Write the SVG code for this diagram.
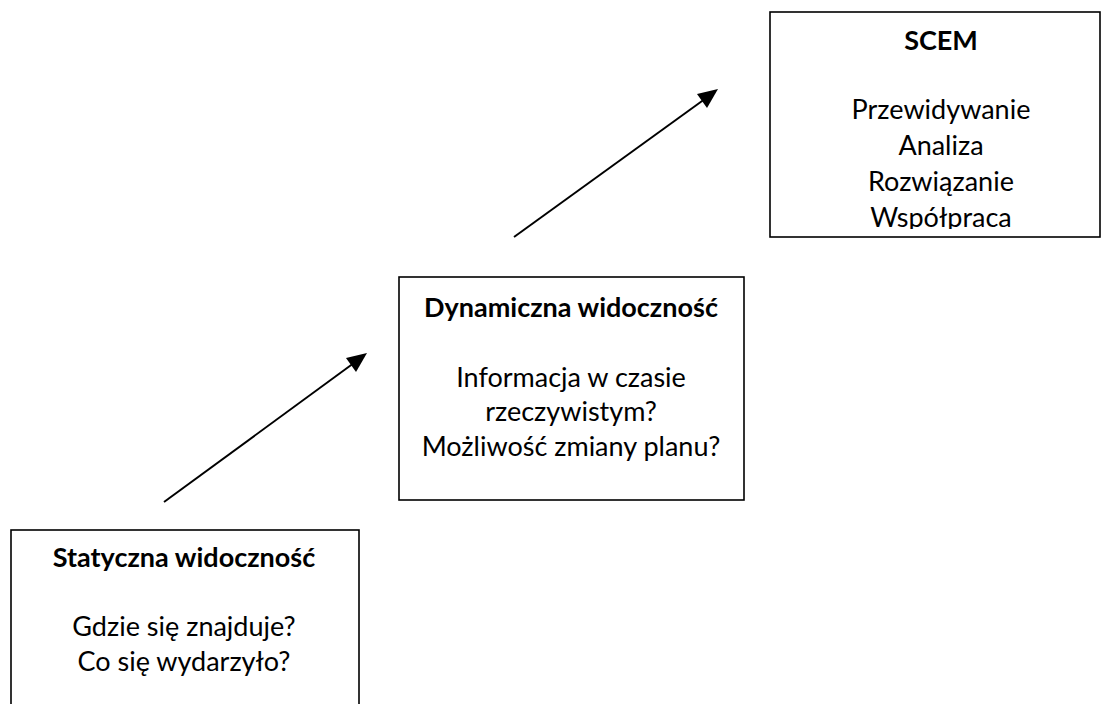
<svg xmlns="http://www.w3.org/2000/svg" width="1104" height="704" viewBox="0 0 1104 704">
<style>
.box{fill:#fff;stroke:#000;stroke-width:1.6}
.t{font-family:Lato,"Open Sans","Liberation Sans",sans-serif;font-size:27px;fill:#000;text-anchor:middle}
.b{font-weight:bold}
.conn{stroke:#000;stroke-width:2;fill:none}
.head{fill:#000}
</style>
<defs>
<clipPath id="clipScem"><rect x="770" y="12" width="330" height="217"/></clipPath>
</defs>
<rect width="1104" height="704" fill="#fff"/>
<g id="connectors">
<line class="conn" x1="164" y1="502" x2="358" y2="360"/>
<path class="head" d="M367,353 L346,358 L356,372 z"/>
<line class="conn" x1="514" y1="237" x2="709" y2="96"/>
<path class="head" d="M718,89 L697,94 L707,108 z"/>
</g>
<g id="scem">
<rect class="box" x="770" y="12" width="330" height="225"/>
<text class="t b" x="941" y="50">SCEM</text>
<g clip-path="url(#clipScem)">
<text class="t" x="941" y="119">Przewidywanie</text>
<text class="t" x="941" y="155">Analiza</text>
<text class="t" x="941" y="191">Rozwiązanie</text>
<text class="t" x="941" y="227">Współpraca</text>
</g>
</g>
<g id="dynamiczna">
<rect class="box" x="399" y="277" width="345" height="223"/>
<text class="t b" x="571" y="317">Dynamiczna widoczność</text>
<text class="t" x="571" y="387">Informacja w czasie</text>
<text class="t" x="571" y="421">rzeczywistym?</text>
<text class="t" x="571" y="456">Możliwość zmiany planu?</text>
</g>
<g id="statyczna">
<rect class="box" x="11" y="530" width="348" height="190"/>
<text class="t b" x="184" y="567">Statyczna widoczność</text>
<text class="t" x="184" y="636">Gdzie się znajduje?</text>
<text class="t" x="184" y="671">Co się wydarzyło?</text>
</g>
</svg>
